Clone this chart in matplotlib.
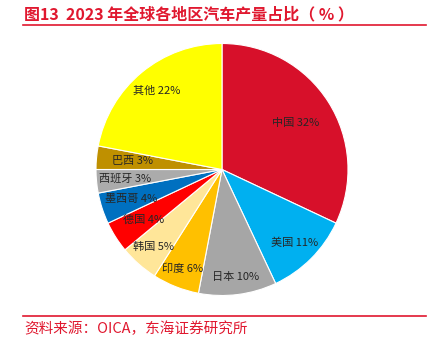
import matplotlib
matplotlib.use("Agg")
import matplotlib.pyplot as plt
import numpy as np

plt.rcParams['font.family'] = ['Noto Sans CJK SC', 'DejaVu Sans']

# data
regions = ['中国', '美国', '日本', '印度', '韩国', '德国', '墨西哥', '西班牙', '巴西', '其他']
shares = [32, 11, 10, 6, 5, 4, 4, 3, 3, 22]
colors = ['#D7102A', '#00B0F0', '#A6A6A6', '#FFC000', '#FFE699',
          '#FF0000', '#0070C0', '#ABABAB', '#BF9000', '#FFFF00']
# how far out each label sits (fraction of radius)
label_r = [0.69, 0.82, 0.86, 0.85, 0.82, 0.74, 0.76, 0.77, 0.71, 0.81]

W, H = 435, 337
fig = plt.figure(figsize=(W / 100, H / 100), dpi=100)

# pie centre (222, 169.5) px from top-left, radius 126 px
cx, cy, r = 222, 169.5, 126
ax = fig.add_axes([(cx - r) / W, (H - cy - r) / H, 2 * r / W, 2 * r / H])
wedges, _ = ax.pie(shares, colors=colors, startangle=90, counterclock=False,
                   wedgeprops=dict(edgecolor='white', linewidth=0.8))
ax.set_xlim(-1, 1)
ax.set_ylim(-1, 1)
ax.set_aspect('equal')

for w, name, val, lr in zip(wedges, regions, shares, label_r):
    ang = np.deg2rad((w.theta1 + w.theta2) / 2)
    ax.text(lr * np.cos(ang), lr * np.sin(ang), f'{name} {val}%',
            ha='center', va='center', fontsize=8, color='#262626')

red = '#E0182F'
fig.text(24 / W, 1 - 14 / H, '图13  2023 年全球各地区汽车产量占比（ % ）',
         fontsize=11.5, fontweight='bold', color=red, ha='left', va='center')
fig.add_artist(plt.Line2D([23 / W, 426 / W], [1 - 25 / H, 1 - 25 / H],
                          color=red, linewidth=1.2))
fig.add_artist(plt.Line2D([23 / W, 426 / W], [1 - 316 / H, 1 - 316 / H],
                          color=red, linewidth=1.2))
fig.text(24 / W, 1 - 329 / H, '资料来源：OICA，东海证券研究所',
         fontsize=10.5, color=red, ha='left', va='center')

fig.savefig('out.png', dpi=100)
